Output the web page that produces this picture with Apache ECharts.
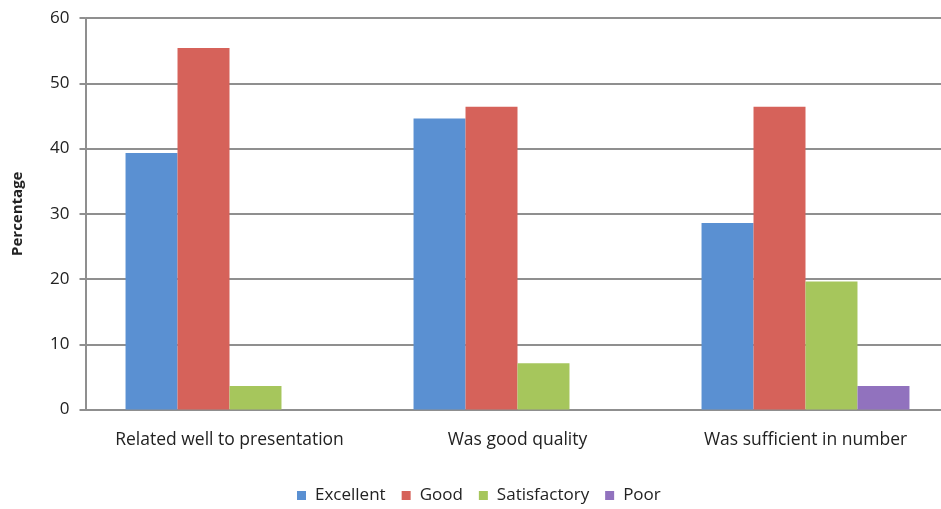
<!DOCTYPE html>
<html>
<head>
<meta charset="utf-8">
<script src="https://cdn.jsdelivr.net/npm/echarts@6/dist/echarts.min.js"></script>
<style>
  html, body { margin: 0; padding: 0; background: #ffffff; }
  #chart { width: 941px; height: 509px; }
</style>
</head>
<body>
<div id="chart"></div>
<script>
// Survey ratings of the handouts, in percent of respondents
const categories = ['Related well to presentation', 'Was good quality', 'Was sufficient in number'];
const excellent = [39.3, 44.6, 28.6];
const good = [55.4, 46.4, 46.4];
const satisfactory = [3.6, 7.1, 19.6];
const poor = [0, 0, 3.6];
const yTicks = { min: 0, max: 60, interval: 10 };

const FONT = '"Open Sans", "Noto Sans", sans-serif';
const GRID_GREY = '#8f8f8f';

const seriesDefs = [
  { name: 'Excellent', data: excellent, color: '#5a90d2' },
  { name: 'Good', data: good, color: '#d6625a' },
  { name: 'Satisfactory', data: satisfactory, color: '#a6c65c' },
  { name: 'Poor', data: poor, color: '#9172be' }
];

const chart = echarts.init(document.getElementById('chart'), null, { renderer: 'canvas' });

chart.setOption({
  backgroundColor: '#ffffff',
  animation: false,
  legend: {
    top: 482,
    left: 292,
    itemWidth: 9,
    itemHeight: 9,
    itemGap: 16,
    icon: 'rect',
    textStyle: { fontFamily: FONT, fontSize: 17, color: '#222', padding: [0, 0, 0, 4] },
    data: seriesDefs.map(s => s.name)
  },
  grid: {
    left: 85.5,
    top: 18,
    width: 864,
    height: 391.5,
    containLabel: false,
    outerBoundsMode: 'none'
  },
  xAxis: {
    type: 'category',
    data: categories,
    axisLine: { show: true, lineStyle: { color: GRID_GREY, width: 2 } },
    axisTick: { show: false },
    axisLabel: {
      interval: 0,
      hideOverlap: false,
      fontFamily: FONT,
      fontSize: 17.5,
      color: '#222',
      margin: 22
    }
  },
  yAxis: {
    type: 'value',
    min: yTicks.min,
    max: yTicks.max,
    interval: yTicks.interval,
    name: 'Percentage',
    nameLocation: 'middle',
    nameGap: 60,
    nameRotate: 90,
    nameTextStyle: { fontFamily: FONT, fontSize: 15, fontWeight: 'bold', color: '#222' },
    axisLine: { show: true, lineStyle: { color: GRID_GREY, width: 2 } },
    axisTick: { show: true, length: 6, lineStyle: { color: GRID_GREY, width: 2 } },
    axisLabel: { fontFamily: FONT, fontSize: 17, color: '#222', margin: 16 },
    splitLine: { show: true, lineStyle: { color: GRID_GREY, width: 2 } }
  },
  series: seriesDefs.map(s => ({
    name: s.name,
    type: 'bar',
    data: s.data,
    barGap: '0%',
    barCategoryGap: '27.8%',
    itemStyle: { color: s.color }
  }))
});
</script>
</body>
</html>
